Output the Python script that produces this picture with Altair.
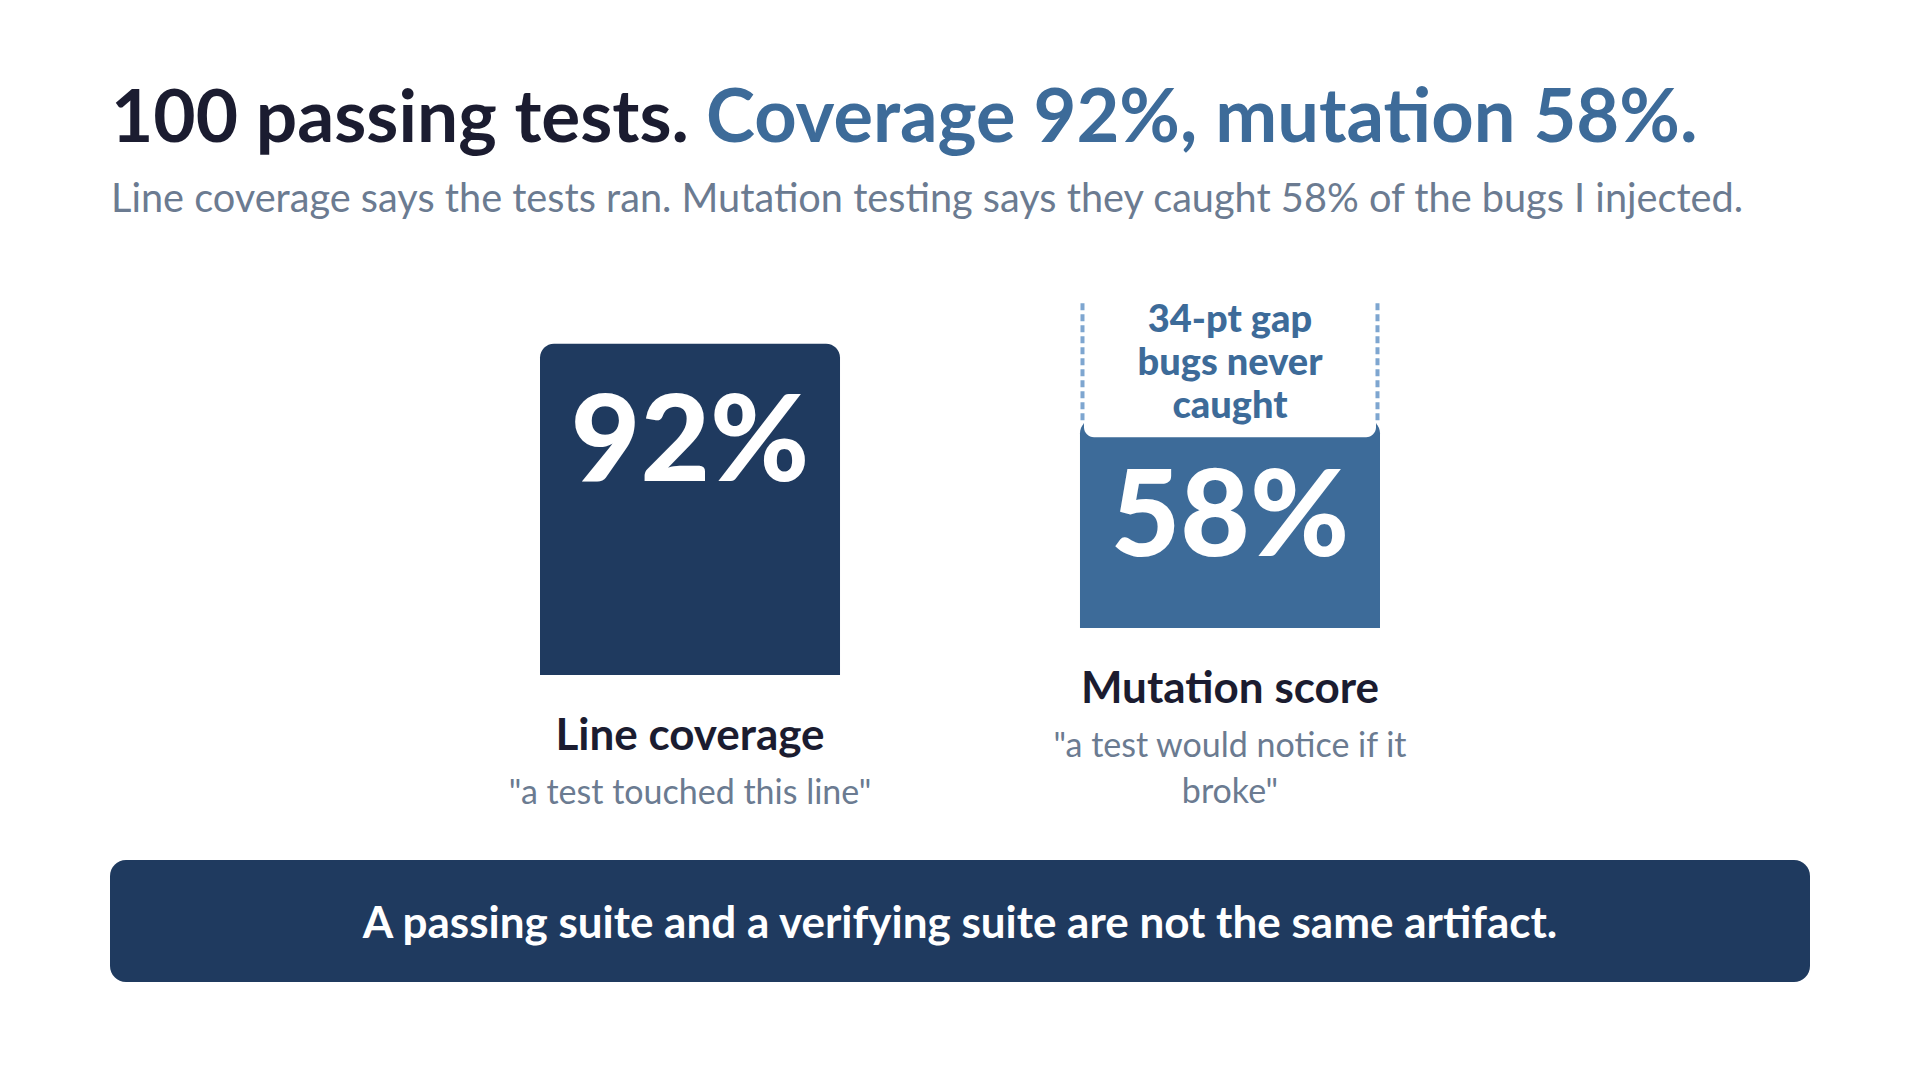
import altair as alt
import pandas as pd

# ---------------- data ----------------
CATEGORIES = ["Line coverage", "Mutation score"]
VALUES = [92, 58]
VALUE_LABELS = ["92%", "58%"]
SUBLABELS = ['"a test touched this line"', '"a test would notice if it\nbroke"']
TITLE_A = "100 passing tests."
TITLE_B = "Coverage 92%, mutation 58%."
SUBTITLE = "Line coverage says the tests ran. Mutation testing says they caught 58% of the bugs I injected."
GAP_TEXT = "34-pt gap\nbugs never\ncaught"
FOOTER = "A passing suite and a verifying suite are not the same artifact."

# ---------------- style ----------------
FONT = "Lato"
DARK = "#1b1c30"
NAVY = "#1f3a5f"
BLUE = "#3d6b99"
SLATE = "#6b7b91"
DASH = "#7ea6d0"
BAR_COLORS = [NAVY, BLUE]

df = pd.DataFrame({
    "category": CATEGORIES,
    "value": VALUES,
    "label": VALUE_LABELS,
    "sub": SUBLABELS,
})

X = alt.X("category:N",
          scale=alt.Scale(domain=CATEGORIES, range=[532, 1372],
                          paddingInner=0.4444, paddingOuter=0),
          axis=None)
YSCALE = alt.Scale(domain=[0, 100], range=[667, 307], nice=False, zero=False)
Y = alt.Y("value:Q", scale=YSCALE, axis=None)
COLOR = alt.Color("category:N", scale=alt.Scale(domain=CATEGORIES, range=BAR_COLORS), legend=None)


def ydatum(v):
    return alt.Y(datum=v, type="quantitative", scale=YSCALE, axis=None)


def column(i, shift):
    base = alt.Chart(df).transform_filter(alt.datum.category == CATEGORIES[i])
    layers = []
    layers.append(
        base.mark_bar(cornerRadiusTopLeft=14, cornerRadiusTopRight=14,
                      yOffset=shift, y2Offset=shift)
        .encode(x=X, y=Y, y2=alt.Y2(datum=0), color=COLOR)
    )
    if i == 1:
        # gap box between coverage (92) and mutation (58)
        layers.append(
            base.mark_bar(color="white", width=292,
                          cornerRadiusBottomLeft=10, cornerRadiusBottomRight=10,
                          yOffset=shift + 18, y2Offset=shift + 6)
            .encode(x=X, y=Y, y2=alt.Y2(datum=VALUES[0]))
        )
        for off in (-147.5, 147.5):
            layers.append(
                base.mark_rule(color=DASH, strokeWidth=4, strokeDash=[7, 4],
                               xOffset=off, yOffset=shift + 1, y2Offset=shift + 6)
                .encode(x=X, y=Y, y2=alt.Y2(datum=VALUES[0]))
            )
        layers.append(
            base.mark_text(font=FONT, fontWeight=900, fontSize=38, color=BLUE,
                           baseline="alphabetic", lineBreak="\n", lineHeight=43,
                           yOffset=shift + 35)
            .encode(x=X, y=ydatum(VALUES[0]), text=alt.value(GAP_TEXT))
        )
    layers.append(
        base.mark_text(font=FONT, fontWeight=900, fontSize=120, color="white",
                       baseline="alphabetic", yOffset=shift + 137)
        .encode(x=X, y=Y, text="label:N")
    )
    layers.append(
        base.mark_text(font=FONT, fontWeight="bold", fontSize=44, color=DARK,
                       baseline="alphabetic", yOffset=shift + 75)
        .encode(x=X, y=ydatum(0), text="category:N")
    )
    layers.append(
        base.mark_text(font=FONT, fontSize=34, color=SLATE, baseline="alphabetic",
                       lineBreak="\n", lineHeight=46, yOffset=shift + 129)
        .encode(x=X, y=ydatum(0), text="sub:N")
    )
    return layers


def text_layer(txt, x, y, **kw):
    return (alt.Chart(pd.DataFrame({"t": [txt]}))
            .mark_text(font=FONT, baseline="alphabetic", **kw)
            .encode(x=alt.value(x), y=alt.value(y), text="t:N"))


title_a = text_layer(TITLE_A, 103, 134, align="left", fontSize=73, fontWeight="bold", color=DARK)
title_b = text_layer(TITLE_B, 698, 134, align="left", fontSize=74, fontWeight="bold", color=BLUE)
subtitle = text_layer(SUBTITLE, 103, 204, align="left", fontSize=39.7, color=SLATE)

footer_box = (alt.Chart(pd.DataFrame({"t": [FOOTER]}))
              .mark_rect(color=NAVY, cornerRadius=16)
              .encode(x=alt.value(102), x2=alt.value(1802), y=alt.value(852), y2=alt.value(974)))
footer_text = text_layer(FOOTER, 952, 930, align="center", fontSize=44, fontWeight="bold", color="white")

layers = [title_a, title_b, subtitle]
layers += column(0, 0)
layers += column(1, -47)
layers += [footer_box, footer_text]

chart = (alt.layer(*layers)
         .properties(width=1900, height=1040, padding=0,
                     autosize=alt.AutoSizeParams(type="fit", contains="padding"),
                     background="white")
         .configure_view(stroke=None))

chart.save("out.html", embed_options={"renderer": "svg", "actions": False})
